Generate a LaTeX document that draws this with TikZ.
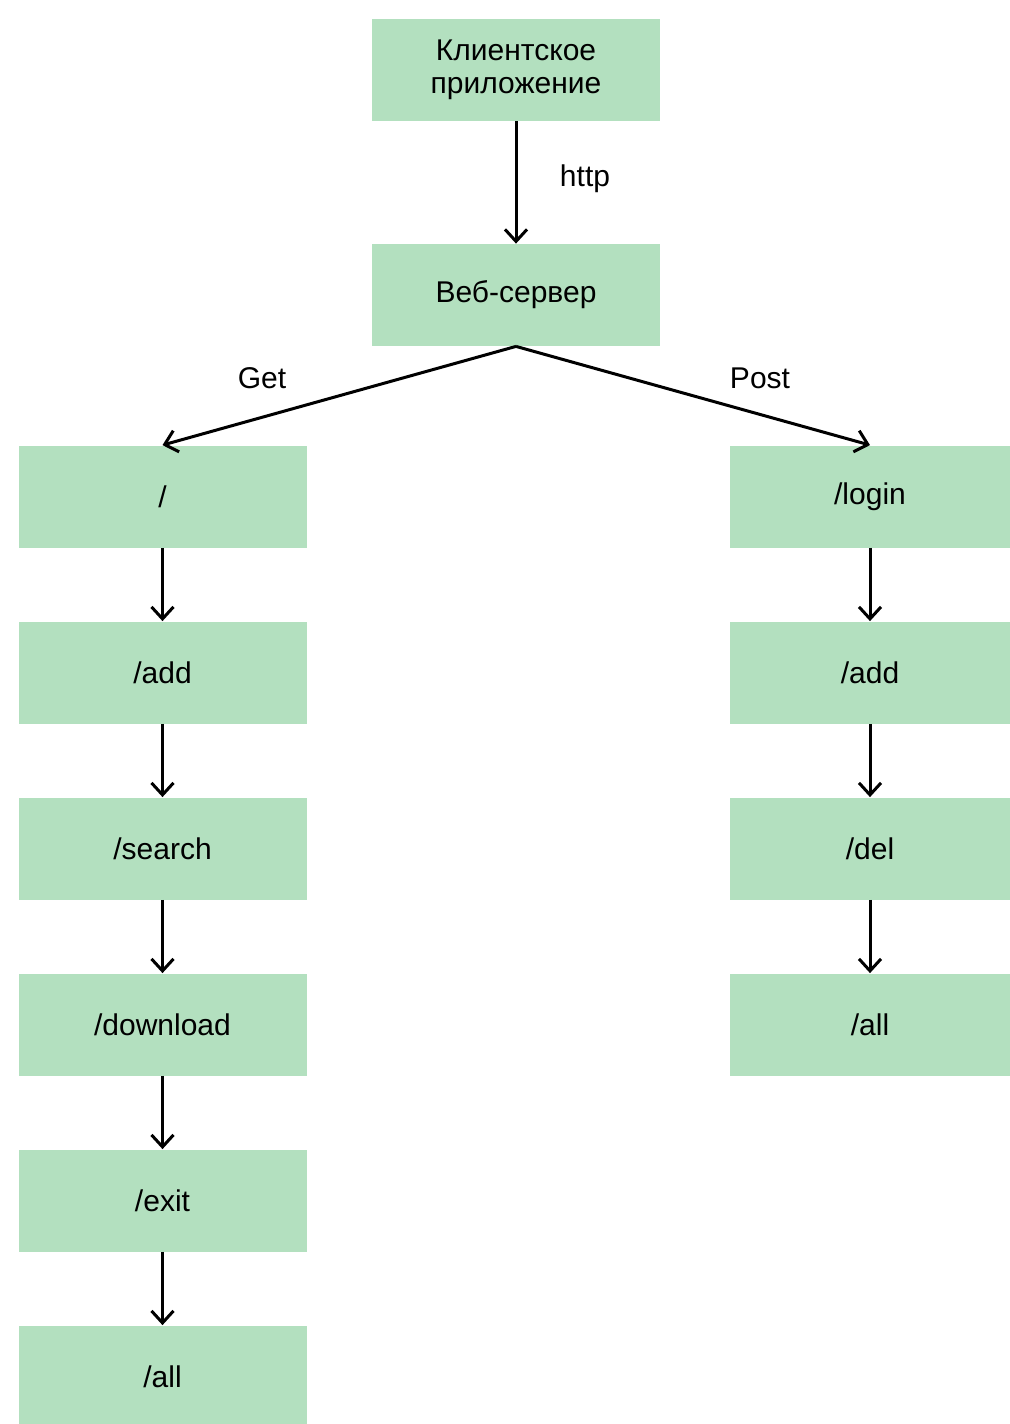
\documentclass[tikz,border=0pt]{standalone}
\usepackage{fontspec}
\setmainfont{Liberation Sans}
\usetikzlibrary{arrows.meta}
\definecolor{boxgreen}{RGB}{179,224,191}

\begin{document}
\begin{tikzpicture}[
  x=0.5pt, y=-0.5pt,
  box/.style={fill=boxgreen, inner sep=0pt, minimum width=144pt, minimum height=51pt,
              align=center, font=\fontsize{15}{16.5}\selectfont},
  rbox/.style={box, minimum width=140pt},
  arr/.style={line width=1.5pt, -{Straight Barb[length=6pt, width=11pt, line width=1.5pt]}},
  lbl/.style={font=\fontsize{15}{16.5}\selectfont}
]
\useasboundingbox (0,0) rectangle (1010,1424);

% --- top ---
\node[box] (client) at (516,70)  {Клиентское\\приложение};
\node[box] (server) at (516,295) {Веб-сервер};

% --- Get column ---
\node[box] (g1) at (162.5,496.5)  {/};
\node[box] (g2) at (162.5,672.5)  {/add};
\node[box] (g3) at (162.5,848.5)  {/search};
\node[box] (g4) at (162.5,1024.5) {/download};
\node[box] (g5) at (162.5,1200.5) {/exit};
\node[box] (g6) at (162.5,1376.5) {/all};

% --- Post column ---
\node[rbox] (p1) at (870,496.5)  {/login};
\node[rbox] (p2) at (870,672.5)  {/add};
\node[rbox] (p3) at (870,848.5)  {/del};
\node[rbox] (p4) at (870,1024.5) {/all};

% --- labels ---
\node[lbl] (http) at (585,179) {http};
\node[lbl] (get)  at (262,378) {Get};
\node[lbl] (post) at (760,378) {Post};

% --- edges ---
\draw[arr] (client) -- (server);
\draw[arr] (server.south) -- (g1.north);
\draw[arr] (server.south) -- (p1.north);

\draw[arr] (g1) -- (g2);
\draw[arr] (g2) -- (g3);
\draw[arr] (g3) -- (g4);
\draw[arr] (g4) -- (g5);
\draw[arr] (g5) -- (g6);

\draw[arr] (p1) -- (p2);
\draw[arr] (p2) -- (p3);
\draw[arr] (p3) -- (p4);

\end{tikzpicture}
\end{document}
